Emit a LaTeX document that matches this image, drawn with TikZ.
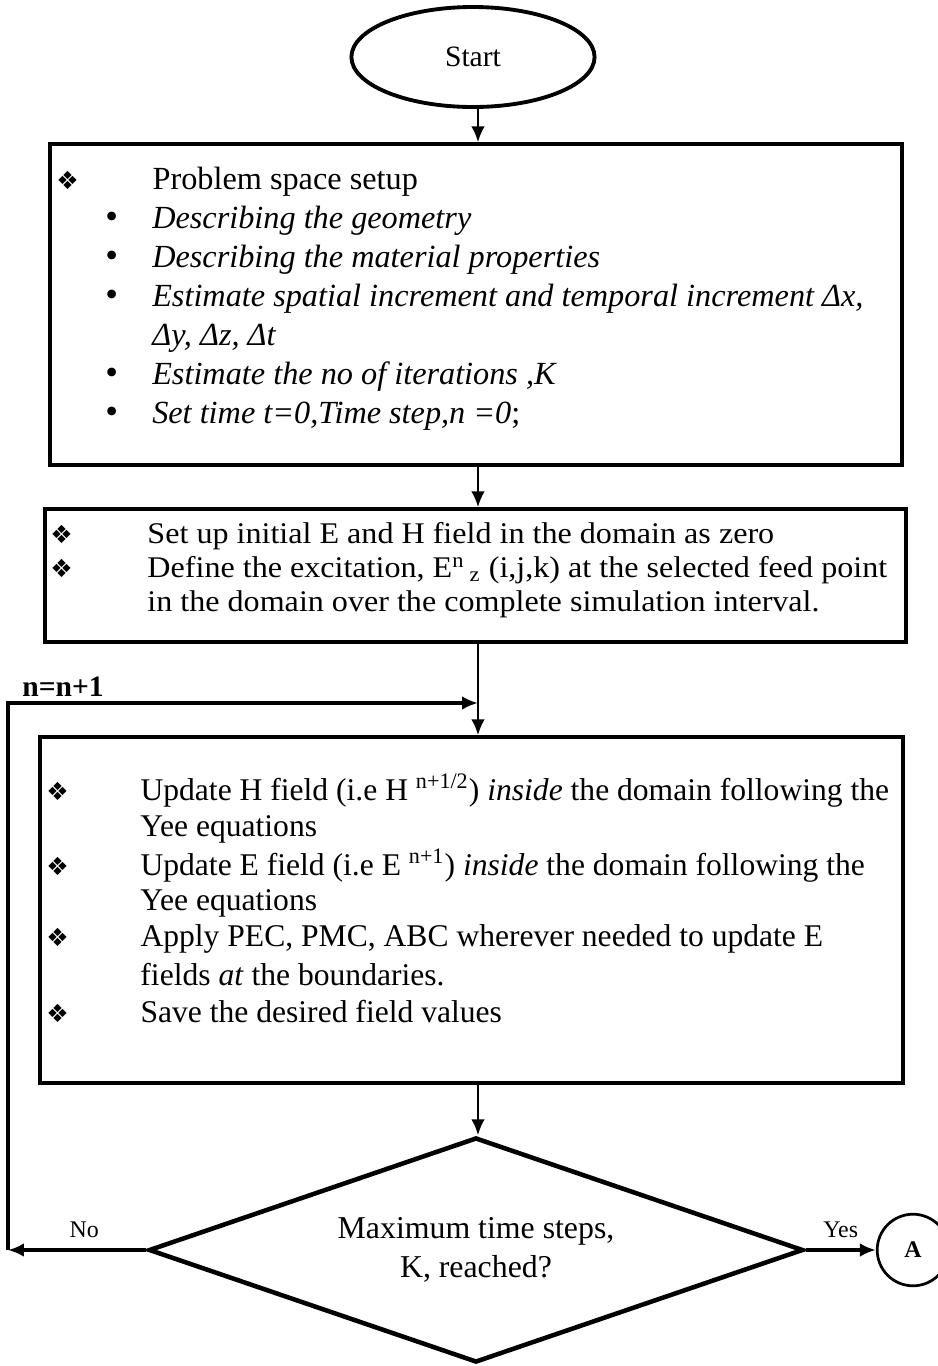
\documentclass[tikz,border=0pt]{standalone}
\usepackage{fontspec}
\setmainfont{Liberation Serif}
\newfontfamily\symfont{DejaVu Sans}
\newfontfamily\wideserif[FakeStretch=1.07]{Liberation Serif}
\usetikzlibrary{arrows.meta}
\usetikzlibrary{shapes.geometric}
\usetikzlibrary{fit}
\tikzset{
    box/.style={draw, line width=1.5pt, inner sep=0pt},
    txt/.style={anchor=west, inner sep=0pt, font=\fontsize{14.2}{16}\selectfont},
    txta/.style={txt, font=\wideserif\fontsize{13.2}{15}\selectfont},
    txtb/.style={txt, font=\fontsize{13.9}{16}\selectfont},
    conn/.style={line width=1.1pt, -{Latex[length=7pt,width=6pt]}},
    loopline/.style={line width=2pt, -{Latex[length=7pt,width=6pt]}},
}
\newcommand{\dia}{{\symfont\fontsize{11}{12}\selectfont ❖}}
\newcommand{\bul}{{\fontsize{16}{16}\selectfont\textbullet}}

\begin{document}
\begin{tikzpicture}[x=0.44pt,y=-0.44pt]
        \useasboundingbox (0,0) rectangle (938,1366);
        \coordinate (axis) at (478,0);
        % start
        \node[draw, ellipse, line width=1.7pt, minimum width=107pt, minimum height=44pt,
            inner sep=0pt, font=\fontsize{13}{15}\selectfont] (start) at (473,57) {Start};
        % problem space setup
        \node[box, fit={(50,144) (902,465)}] (setup) {};
        \node[txt] (s0) at (56,182) {\makebox[42.3pt][l]{\dia}Problem space setup};
        \node[txt] (s1) at (105,221) {\makebox[20.6pt][l]{\bul}\textit{Describing the geometry}};
        \node[txt] (s2) at (105,260) {\makebox[20.6pt][l]{\bul}\textit{Describing the material properties}};
        \node[txt] (s3) at (105,299) {\makebox[20.6pt][l]{\bul}\textit{Estimate spatial increment and temporal increment Δx,}};
        \node[txt] (s4) at (152,338) {\textit{Δy, Δz, Δt}};
        \node[txt] (s5) at (105,377) {\makebox[20.6pt][l]{\bul}\textit{Estimate the no of iterations ,K}};
        \node[txt] (s6) at (105,416) {\makebox[20.6pt][l]{\bul}\textit{Set time t=0,Time step,n =0};};
        % initial fields
        \node[box, fit={(45,509) (906,642)}] (init) {};
        \node[txta] (i0) at (50,536) {\makebox[42.7pt][l]{\dia}Set up initial E and H field in the domain as zero};
        \node[txta] (i1) at (50,570) {\makebox[42.7pt][l]{\dia}Define the excitation, E\textsuperscript{n}\,\textsubscript{z} (i,j,k) at the selected feed point};
        \node[txta] (i2) at (147,604) {in the domain over the complete simulation interval.};
        % update loop
        \node[box, fit={(40,737) (903,1083)}] (update) {};
        \node[txtb] (u0) at (46,791) {\makebox[41.4pt][l]{\dia}Update H field (i.e H \textsuperscript{n+1/2}) \textit{inside} the domain following the};
        \node[txtb] (u1) at (140,829) {Yee equations};
        \node[txtb] (u2) at (46,866) {\makebox[41.4pt][l]{\dia}Update E field (i.e E \textsuperscript{n+1}) \textit{inside} the domain following the};
        \node[txtb] (u3) at (140,903) {Yee equations};
        \node[txtb] (u4) at (46,939) {\makebox[41.4pt][l]{\dia}Apply PEC, PMC, ABC wherever needed to update E};
        \node[txtb] (u5) at (140,975) {fields \textit{at} the boundaries.};
        \node[txtb] (u6) at (46,1012) {\makebox[41.4pt][l]{\dia}Save the desired field values};
        % decision
        \node[draw, diamond, shape aspect=2.9, line width=2pt, minimum width=288pt, minimum height=99pt,
            inner sep=0pt, align=center, font=\fontsize{14}{17}\selectfont] (decide) at (476,1250)
            {Maximum time steps,\\K, reached?};
        \node[draw, circle, line width=1.2pt, minimum size=31.5pt, inner sep=0pt,
            font=\bfseries\fontsize{10.5}{11}\selectfont] (conA) at (913,1250) {A};
        \coordinate (noend) at (8,1250);
        \coordinate (loopin) at (478,703);
        \node[font=\bfseries\fontsize{13}{14}\selectfont, inner sep=0pt] (incr) at (63,687) {n=n+1};
        % connectors
        \draw[conn] (axis |- start.south) -- (axis |- setup.north);
        \draw[conn] (axis |- setup.south) -- (axis |- init.north);
        \draw[conn] (axis |- init.south) -- (axis |- update.north);
        \draw[conn] (axis |- update.south) -- (axis |- decide.north);
        \draw[loopline] (decide.west) -- (noend) node[pos=0.45, above=1pt, font=\fontsize{10.5}{12}\selectfont] {No};
        \draw[loopline] (noend) |- (loopin);
        \draw[loopline] (decide.east) -- (conA.west) node[midway, above=1pt, font=\fontsize{10.5}{12}\selectfont] {Yes};
    \end{tikzpicture}
\end{document}
